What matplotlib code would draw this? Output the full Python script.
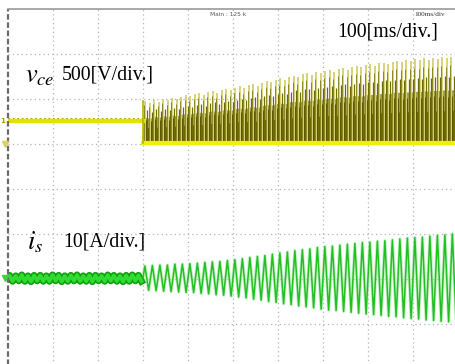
import numpy as np
import matplotlib
matplotlib.use("Agg")
import matplotlib.pyplot as plt

plt.rcParams['mathtext.fontset'] = 'stix'

# screen is 10 x 8 divisions, values below are in divisions
switch_on = 3.0          # time (div) where the converter starts
ce_level_off = 1.51      # v_ce trace before start
ce_ground = 1.02         # v_ce ground marker / bottom of the pulses
is_center = -1.98        # i_s ground marker

# v_ce pulse peaks, one every 0.1 div after start
ce_peaks = [1.95, 1.90, 1.98, 1.94, 2.00, 1.97, 2.03, 1.99, 2.05, 2.08,
            2.06, 2.10, 2.13, 2.09, 2.15, 2.18, 2.14, 2.20, 2.22, 2.19,
            2.25, 2.28, 2.24, 2.30, 2.33, 2.29, 2.36, 2.40, 2.37, 2.43,
            2.46, 2.42, 2.49, 2.52, 2.48, 2.55, 2.57, 2.53, 2.60, 2.58,
            2.62, 2.64, 2.60, 2.67, 2.69, 2.65, 2.71, 2.73, 2.70, 2.75,
            2.77, 2.74, 2.79, 2.81, 2.78, 2.83, 2.85, 2.82, 2.86, 2.84,
            2.88, 2.86, 2.90, 2.87, 2.91, 2.89, 2.93, 2.90, 2.94, 2.92]

# i_s before start: small ripple, tops / bottoms per cycle (7.5 cycles/div)
is_pre_tops = [-1.92, -1.93, -1.91, -1.93, -1.92, -1.92, -1.93, -1.91, -1.92, -1.93, -1.92,
               -1.91, -1.93, -1.92, -1.92, -1.93, -1.91, -1.92, -1.93, -1.92, -1.91, -1.92]
is_pre_bots = [-2.05, -2.04, -2.05, -2.06, -2.04, -2.05, -2.05, -2.04, -2.06, -2.05, -2.04,
               -2.05, -2.05, -2.06, -2.04, -2.05, -2.04, -2.05, -2.06, -2.05, -2.04, -2.05]

# i_s after start: tops / bottoms per cycle (6 cycles/div)
is_tops = [-1.71, -1.70, -1.69, -1.69, -1.67, -1.67,
           -1.66, -1.65, -1.63, -1.62, -1.61, -1.59,
           -1.57, -1.55, -1.52, -1.50, -1.48, -1.45,
           -1.42, -1.40, -1.37, -1.35, -1.33, -1.30,
           -1.28, -1.27, -1.25, -1.23, -1.21, -1.19,
           -1.18, -1.16, -1.15, -1.13, -1.11, -1.09,
           -1.08, -1.07, -1.05, -1.03, -1.02, -1.00]
is_bots = [-2.25, -2.26, -2.27, -2.28, -2.29, -2.30,
           -2.30, -2.32, -2.33, -2.35, -2.36, -2.38,
           -2.40, -2.42, -2.45, -2.47, -2.50, -2.52,
           -2.55, -2.57, -2.60, -2.62, -2.64, -2.67,
           -2.69, -2.70, -2.72, -2.74, -2.76, -2.78,
           -2.79, -2.81, -2.83, -2.84, -2.86, -2.88,
           -2.89, -2.91, -2.92, -2.94, -2.95, -2.97]


def zigzag(x0, period, tops, bots):
    # join the read extremes: top, bottom, top, ...
    xs, ys = [x0], [(tops[0] + bots[0]) / 2]
    for k, (t, b) in enumerate(zip(tops, bots)):
        xs += [x0 + period * (k + 0.25), x0 + period * (k + 0.75)]
        ys += [t, b]
    return np.array(xs), np.array(ys)


fig = plt.figure(figsize=(4.56, 3.64), dpi=100)
ax = fig.add_axes([8 / 456, -5 / 364, 450 / 456, 360 / 364])
ax.set_xlim(0, 10)
ax.set_ylim(-4, 4)
ax.axis('off')

# graticule
for gx in range(1, 10):
    ax.axvline(gx, color='#b5b5b5', lw=0.9, ls=(0, (1, 2.5)), zorder=0)
for gy in range(-3, 4):
    ax.axhline(gy, color='#b5b5b5', lw=0.9, ls=(0, (1, 2.5)), zorder=0)
ax.axvline(0, color='#6a6a6a', lw=1.6, ls=(0, (2.5, 1.2)), zorder=5, clip_on=False)
ax.axhline(4, color='#9a9a9a', lw=1.2, zorder=5, clip_on=False)

# ---- v_ce (yellow) ----
ax.plot([0, switch_on], [ce_level_off, ce_level_off], color='#e2e200', lw=3.2, zorder=3)
ax.plot([0, switch_on], [ce_level_off + 0.06] * 2, color='#b0a800', lw=0.8,
        ls=(0, (1.5, 2.5)), zorder=3)

ce_peaks = np.array(ce_peaks)
sx = switch_on + 0.05 + 0.1 * np.arange(len(ce_peaks))
ex = np.concatenate([[switch_on], sx, [10]])
ey = np.concatenate([[ce_peaks[0]], ce_peaks, [ce_peaks[-1]]])
ax.fill_between(ex, ce_ground, ce_ground + 0.62 * (ey - ce_ground), color='#8f8b25', alpha=0.8, lw=0, zorder=2)
ax.fill_between(ex, ce_ground, ce_ground + 0.38 * (ey - ce_ground), color='#6a6600', lw=0, zorder=2)
ax.vlines(sx, ce_ground, ce_peaks, color='#d6d27c', lw=1.4, zorder=2.5)
ax.vlines(sx + 0.05, ce_ground, ce_ground + 0.78 * (ce_peaks - ce_ground), color='#6f6b00', lw=0.9, zorder=2.4)
ax.vlines(sx - 0.025, ce_ground, ce_ground + 0.9 * (ce_peaks - ce_ground), color='#807c12', lw=0.6, zorder=2.6)
ax.vlines(sx + 0.025, ce_ground, ce_ground + 0.55 * (ce_peaks - ce_ground), color='#5c5800', lw=0.7, zorder=2.6)
ax.plot([switch_on, 10], [ce_ground, ce_ground], color='#f0f000', lw=3.0, zorder=3)
ax.plot([switch_on, switch_on], [ce_ground, ce_peaks[0]], color='#b8b400', lw=1.2, zorder=3)

# ---- i_s (green) ----
px, py = zigzag(0, switch_on / len(is_pre_tops), is_pre_tops, is_pre_bots)
ax.plot(px, py, color='#12a012', lw=5.0, zorder=3, solid_joinstyle='round')
ax.plot(px, py, color='#2fdc2f', lw=2.6, zorder=3.1, solid_joinstyle='round')

gx_, gy_ = zigzag(switch_on, 1 / 6, is_tops, is_bots)
ax.plot(gx_, gy_, color='#a6eaa6', lw=2.4, zorder=2.5, alpha=0.6)
ax.plot(gx_, gy_, color='#22c022', lw=1.1, zorder=3)

# channel markers at the left edge
ax.text(-0.12, ce_level_off, '1', color='#a8a000', fontsize=5, ha='center', va='center',
        clip_on=False, fontweight='bold')
ax.plot([-0.06], [ce_ground - 0.02], marker='v', color='#d8d060', ms=4, clip_on=False, zorder=6)
ax.plot([-0.06], [is_center], marker='v', color='#40d040', ms=4, clip_on=False, zorder=6)

# labels
ax.text(0.38, 2.53, r'$v_{ce}$', fontsize=19, va='center', ha='left')
ax.text(1.2, 2.53, '500[V/div.]', fontsize=14.3, family='Liberation Serif', va='center', ha='left')
ax.text(0.42, -1.18, r'$i_{s}$', fontsize=19, va='center', ha='left')
ax.text(1.22, -1.18, '10[A/div.]', fontsize=14.3, family='Liberation Serif', va='center', ha='left')
ax.text(8.44, 3.49, '100[ms/div.]', fontsize=14.3, family='Liberation Serif', va='center', ha='center')
ax.text(4.48, 3.87, 'Main : 125 k', fontsize=4.2, color='#555555', va='center', ha='left')
ax.text(9.02, 3.87, '100ms/div', fontsize=5.2, color='#333333', va='center', ha='left',
        family='Liberation Serif')

fig.savefig('out.png', dpi=100)
